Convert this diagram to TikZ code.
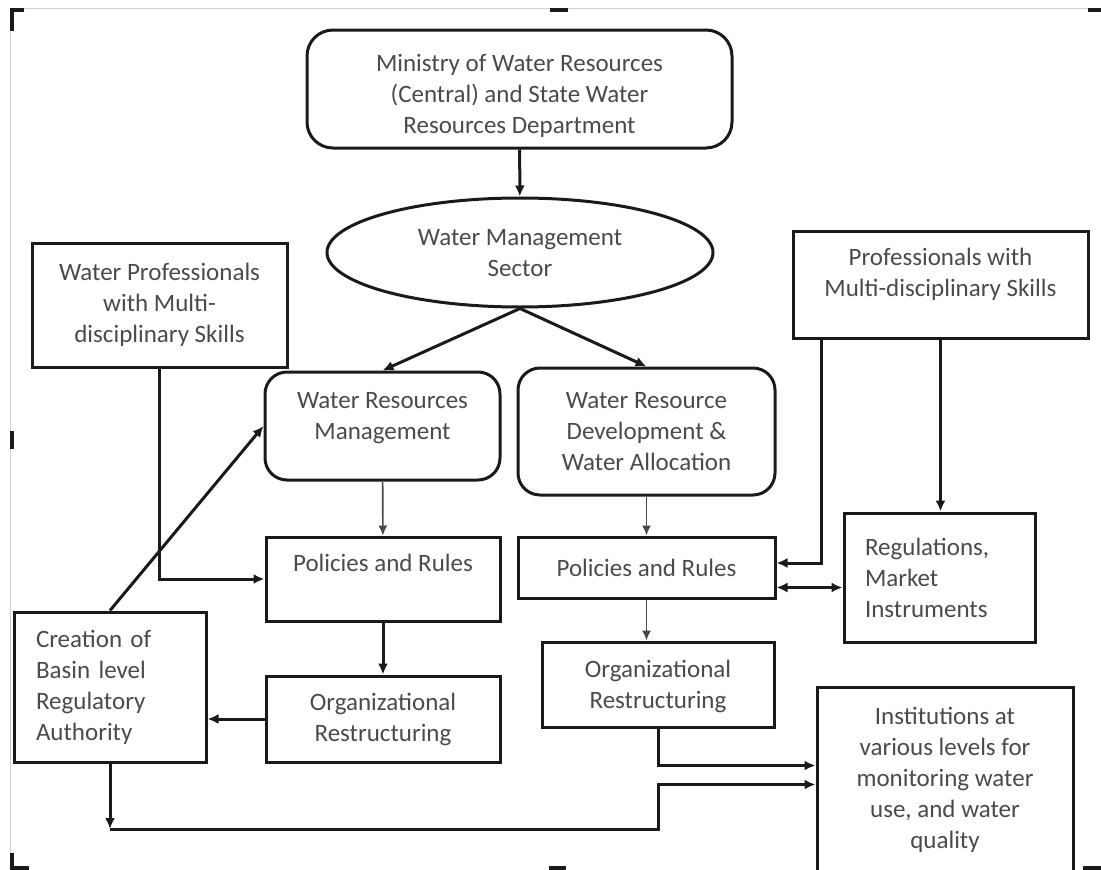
\documentclass[tikz,border=0pt]{standalone}
\usepackage{fontspec}
\setmainfont{Carlito}
\usepackage{xcolor}
\definecolor{TextGray}{HTML}{4A4A4A}
\definecolor{FrameGray}{HTML}{C9D2DE}
\definecolor{LineBlack}{HTML}{1A1A1A}
\usepackage{tikz}
\usetikzlibrary{positioning,shapes.geometric,arrows.meta}

\begin{document}
\begin{tikzpicture}[x=1pt, y=-1pt,
    box/.style={draw=LineBlack, line width=3pt, text=TextGray, font=\fontsize{25pt}{31pt}\selectfont, align=center, inner sep=0pt},
    roundbox/.style={box, rounded corners=22pt},
    link/.style={draw=LineBlack, line width=3pt, -{Latex[length=11pt,width=10pt]}},
    thinlink/.style={draw=LineBlack!80, line width=1.6pt, -{Latex[length=10pt,width=9pt]}},
    handle/.style={line width=3.5pt, LineBlack}]

    \clip (0,0) rectangle (1101,870);

    % Draw frame and handles
    \draw[FrameGray, line width=1pt] (1101,8) -- (10,8) -- (10,870);
    \draw[handle] (12,31) -- (12,10) -- (24,10);
    \draw[handle] (550,10) -- (568,10);
    \draw[handle] (1088,10) -- (1101,10);
    \draw[handle] (12,431) -- (12,449);
    \draw[handle] (12,853) -- (12,868) -- (29,868);
    \draw[handle] (549,868) -- (566,868);
    \draw[handle] (1083,868) -- (1101,868);

    % Top of the hierarchy
    \node[roundbox, rounded corners=26pt, minimum width=425pt, minimum height=118pt] (ministry) at (519.5,89) {\rule{0pt}{32pt}Ministry of Water Resources\\(Central) and State Water\\Resources Department};
    \node[box, ellipse, minimum width=386pt, minimum height=109pt, text depth=-8pt] (sector) at (520,252.5) {Water Management\\Sector};

    % Skills boxes
    \node[box, minimum width=255pt, minimum height=124pt] (wprof) at (159.5,305) {Water Professionals\\with Multi-\\disciplinary Skills};
    \node[box, minimum width=295pt, minimum height=107pt, text depth=24pt] (mprof) at (940.5,284.5) {Professionals with\\Multi-disciplinary Skills};

    % Two branches
    \node[roundbox, minimum width=235pt, minimum height=108pt, text depth=20pt] (wrm) at (382.5,426) {Water Resources\\Management};
    \node[roundbox, minimum width=257pt, minimum height=127pt] (wrd) at (646.5,431.5) {Water Resource\\Development \&\\Water Allocation};
    \node[box, minimum width=234pt, minimum height=84pt, text depth=33pt] (polL) at (383,579) {Policies and Rules};
    \node[box, minimum width=257pt, minimum height=61pt] (polR) at (646.5,567.5) {Policies and Rules};
    \node[box, minimum width=234pt, minimum height=86pt] (orgL) at (383,719) {Organizational\\Restructuring};
    \node[box, minimum width=232pt, minimum height=85pt, text depth=-5pt] (orgR) at (658,684.5) {Organizational\\Restructuring};

    % Side boxes
    \node[box, align=left, text width=148pt, inner xsep=22pt, minimum height=150pt] (creation) at (110,687) {Creation of\\Basin level\\Regulatory\\Authority};
    \node[box, align=left, text width=149pt, inner xsep=21pt, minimum height=129pt] (reg) at (939.5,577.5) {Regulations,\\Market\\Instruments};
    \node[box, minimum width=256pt, minimum height=185pt] (inst) at (945,779.5) {Institutions at\\various levels for\\monitoring water\\use, and water\\quality};

    % Connectors
    \draw[link] (ministry) -- (sector);
    \draw[link] (sector.south) -- (wrm.north);
    \draw[link] (sector.south) -- (wrd.north);
    \draw[thinlink] (wrm) -- (polL);
    \draw[thinlink] (wrd) -- (polR);
    \draw[link] (polL) -- (orgL);
    \draw[thinlink] (polR.south) -- (polR.south |- orgR.north);
    \draw[link] (orgL.west) -- (orgL.west -| creation.east);
    \draw[link] (creation.north) -- (wrm.west);
    \draw[link] (wprof.south) |- (polL.west);
    \draw[link] (mprof.south) -- (mprof.south |- reg.north);
    \draw[link] ([xshift=30pt]mprof.south west) |- ([yshift=4.5pt]polR.east);
    \draw[link, {Latex[length=11pt,width=10pt]}-{Latex[length=11pt,width=10pt]}] ([yshift=-20pt]polR.east) -- ([yshift=-10pt]reg.west);
    \draw[link] (orgR.south) |- ([yshift=-80pt]inst.north west);

    \coordinate (corner) at (110,829);
    \coordinate (bend) at (658,829);
    \draw[link] (creation.south) -- (corner);
    \draw[link] (corner) -- (bend) |- ([yshift=-99pt]inst.north west);
\end{tikzpicture}
\end{document}
